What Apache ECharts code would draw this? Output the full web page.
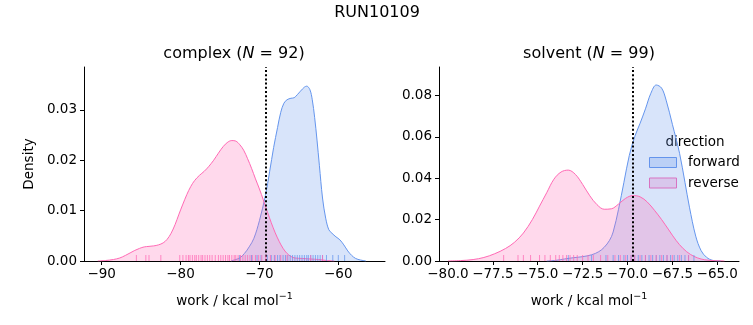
<!DOCTYPE html>
<html>
<head>
<meta charset="utf-8">
<script src="https://cdn.jsdelivr.net/npm/echarts@6/dist/echarts.min.js"></script>
<style>
html,body{margin:0;padding:0;background:#fff;}
#chart{width:753px;height:325px;}
</style>
</head>
<body>
<div id="chart"></div>
<script>
// ---------- data ----------
const complexForwardX = [-73.6,-73.2,-72.5,-71.9,-71.3,-70.7,-70.0,-69.24,-68.7,-68.2,-67.7,-67.3,-66.9,-66.5,-66.0,-65.6,-65.2,-64.8,-64.3,-64.0,-63.6,-63.3,-63.0,-62.7,-62.4,-62.0,-61.6,-61.2,-60.8,-60.3,-59.8,-59.3,-58.8,-58.3,-57.8,-57.2,-56.5];
const complexForwardY = [0.0,0.0002,0.0006,0.0015,0.0028,0.0045,0.0080,0.0130,0.0178,0.0225,0.0265,0.0295,0.0313,0.0320,0.0323,0.0324,0.0330,0.0337,0.0345,0.0347,0.0340,0.0320,0.0285,0.0240,0.0190,0.0125,0.0085,0.0062,0.0055,0.0048,0.0042,0.0032,0.0020,0.0011,0.0005,0.0002,0.0];
const complexReverseX = [-90.5,-89.5,-88.5,-87.7,-87.0,-86.4,-85.8,-85.2,-84.6,-84.0,-83.4,-82.8,-82.2,-81.7,-81.2,-80.7,-80.2,-79.7,-79.2,-78.7,-78.2,-77.6,-77.0,-76.4,-75.8,-75.2,-74.6,-74.0,-73.5,-73.0,-72.5,-72.0,-71.5,-71.0,-70.5,-70.0,-69.5,-69.0,-68.5,-68.0,-67.5,-67.0,-66.5,-66.0,-65.5,-64.5,-63.5,-62.5,-61.5,-60.5];
const complexReverseY = [0.0,0.0001,0.0003,0.0006,0.0011,0.0016,0.0021,0.0025,0.0028,0.0029,0.0030,0.0032,0.0036,0.0043,0.0055,0.0072,0.0093,0.0113,0.0132,0.0148,0.0160,0.0170,0.0178,0.0188,0.0200,0.0214,0.0227,0.0236,0.0239,0.0238,0.0231,0.0220,0.0203,0.0184,0.0163,0.0143,0.0121,0.0098,0.0076,0.0056,0.0039,0.0025,0.0015,0.0009,0.0006,0.0005,0.0004,0.0003,0.0001,0.0];
const solventForwardX = [-74.5,-74.0,-73.5,-73.0,-72.5,-72.0,-71.6,-71.3,-71.0,-70.8,-70.5,-70.2,-69.9,-69.6,-69.3,-69.0,-68.7,-68.4,-68.1,-67.85,-67.5,-67.1,-66.8,-66.55,-66.2,-65.9,-65.6,-65.25,-64.8];
const solventForwardY = [0.0,0.0003,0.0010,0.0016,0.0021,0.0030,0.0045,0.0066,0.0100,0.0140,0.0250,0.0380,0.0510,0.0600,0.0665,0.0735,0.0810,0.0850,0.0835,0.0777,0.0660,0.0520,0.0380,0.0260,0.0120,0.0050,0.0018,0.0003,0.0];
const solventReverseX = [-80.0,-79.3,-78.6,-78.0,-77.4,-76.8,-76.3,-75.8,-75.3,-74.9,-74.5,-74.1,-73.7,-73.3,-72.9,-72.5,-72.1,-71.7,-71.3,-70.9,-70.5,-70.1,-69.7,-69.3,-68.9,-68.5,-68.1,-67.7,-67.3,-66.9,-66.5,-66.1,-65.7,-65.2,-64.6];
const solventReverseY = [0.0,0.0002,0.0007,0.0017,0.0035,0.0060,0.0090,0.0135,0.0200,0.0265,0.0330,0.0395,0.0430,0.0439,0.0418,0.0370,0.0315,0.0272,0.0250,0.0252,0.0275,0.0303,0.0316,0.0310,0.0285,0.0245,0.0200,0.0150,0.0100,0.0060,0.0032,0.0015,0.0006,0.0002,0.0];

const complexForwardRug = [-72.5,-71.0,-70.3,-69.8,-69.0,-68.5,-68.1,-67.7,-67.4,-67.0,-66.7,-66.4,-66.1,-65.8,-65.5,-65.2,-64.9,-64.6,-64.3,-64.0,-63.8,-63.5,-63.2,-62.9,-62.6,-62.3,-62.0,-61.5,-60.7,-60.0,-59.2];
const complexReverseRug = [-85.6,-84.4,-84.0,-82.5,-80.1,-79.7,-79.3,-79.0,-78.8,-78.5,-78.2,-78.0,-77.7,-77.4,-77.2,-76.9,-76.6,-76.3,-76.0,-75.6,-75.2,-74.9,-74.6,-74.3,-74.0,-73.8,-73.5,-73.2,-73.0,-72.7,-72.4,-72.1,-71.8,-71.5,-71.2,-70.9,-70.5,-70.1,-69.7,-69.2,-68.6,-68.0,-67.3,-66.5,-63.5,-62.0];
const solventForwardRug = [-73.3,-72.0,-71.2,-70.8,-70.5,-70.2,-70.0,-69.8,-69.6,-69.4,-69.2,-69.0,-68.8,-68.6,-68.4,-68.2,-68.0,-67.8,-67.6,-67.4,-67.2,-67.0,-66.8,-66.6,-66.3];
const solventReverseRug = [-76.9,-76.1,-75.8,-75.4,-74.9,-74.6,-74.3,-74.0,-73.8,-73.6,-73.4,-73.2,-73.0,-72.8,-72.5,-72.2,-71.9,-71.5,-71.1,-70.7,-70.4,-70.1,-69.8,-69.6,-69.3,-69.0,-68.7,-68.4,-68.1,-67.8,-67.5,-67.1,-66.6];

const complexMean = -69.24;
const solventMean = -69.69;

const complexXTicks = [-90,-80,-70,-60];
const solventXTicks = [-80,-77.5,-75,-72.5,-70,-67.5,-65];

// ---------- styling ----------
const BLUE = '#6495ED';
const PINK = '#FF69B4';
const FONT = 'DejaVu Sans';
const FS = 13.5;
function fmt(v, dec){
  const s = Math.abs(Number(v)).toFixed(dec);
  return (Number(v) < 0 ? '\u2212' : '') + s;
}

function pairs(xs, ys){ return xs.map((x,i)=>[x, ys[i]]); }
function rug(xs){ return xs.map(x=>[x,0]); }

function xAxisDef(gi, min, max, ticks, dec){
  return {
    type:'value', gridIndex:gi, min:min, max:max,
    splitLine:{show:false},
    axisLine:{show:true, onZero:false, lineStyle:{color:'#000', width:1}},
    axisTick:{show:true, length:4, lineStyle:{color:'#000', width:1}, customValues:ticks},
    axisLabel:{color:'#000', fontFamily:FONT, fontSize:FS, margin:6, customValues:ticks,
      formatter: v => fmt(v, dec)},
    name:'work / kcal mol{sup|\u22121}',
    nameLocation:'middle', nameGap:31,
    nameTextStyle:{color:'#000', fontFamily:FONT, fontSize:FS,
      rich:{sup:{fontFamily:FONT, fontSize:9.5, verticalAlign:'top', padding:[0,0,8,0], color:'#000'}}}
  };
}
function yAxisDef(gi, max, interval, name){
  const o = {
    type:'value', gridIndex:gi, min:0, max:max, interval:interval,
    splitLine:{show:false},
    axisLine:{show:true, lineStyle:{color:'#000', width:1}},
    axisTick:{show:true, length:4, lineStyle:{color:'#000', width:1}},
    axisLabel:{color:'#000', fontFamily:FONT, fontSize:FS, margin:7, showMaxLabel:false,
      formatter: v => v.toFixed(2)}
  };
  if(name){
    o.name = name; o.nameLocation='middle'; o.nameGap=48;
    o.nameTextStyle = {color:'#000', fontFamily:FONT, fontSize:FS};
  }
  return o;
}
function kde(name, xi, yi, xs, ys, color, z){
  return {
    type:'line', name:name, xAxisIndex:xi, yAxisIndex:yi,
    data:pairs(xs, ys), showSymbol:false, symbol:'none',
    smooth:0.35, z:z, silent:true,
    lineStyle:{color:color, width:1},
    areaStyle:{color:color, opacity:0.25}
  };
}
function rugSeries(xi, yi, xs, color){
  return {
    type:'scatter', xAxisIndex:xi, yAxisIndex:yi, data:rug(xs),
    symbol:'rect', symbolSize:[1,6], symbolOffset:[0,-3], silent:true, z:5,
    itemStyle:{color:color, opacity:0.75}
  };
}
function vline(xi, yi, x){
  return {
    type:'line', xAxisIndex:xi, yAxisIndex:yi, data:[], silent:true, z:10,
    markLine:{silent:true, symbol:['none','none'], label:{show:false}, animation:false,
      lineStyle:{color:'#000', width:2, type:[2,2.2]}, data:[{xAxis:x}]}
  };
}

const chart = echarts.init(document.getElementById('chart'), null, {renderer:'canvas'});
chart.setOption({
  animation:false,
  backgroundColor:'#fff',
  grid:[
    {left:84, top:67, width:301, height:194},
    {left:439, top:67, width:300, height:194}
  ],
  xAxis:[
    xAxisDef(0, -92.24, -54.08, complexXTicks, 0),
    xAxisDef(1, -80.5, -63.79, solventXTicks, 1)
  ],
  yAxis:[
    yAxisDef(0, 0.0385, 0.01, 'Density'),
    yAxisDef(1, 0.0937, 0.02, null)
  ],
  series:[
    kde('forward', 0, 0, complexForwardX, complexForwardY, BLUE, 2),
    kde('reverse', 0, 0, complexReverseX, complexReverseY, PINK, 3),
    rugSeries(0, 0, complexForwardRug, BLUE),
    rugSeries(0, 0, complexReverseRug, PINK),
    vline(0, 0, complexMean),
    kde('forward', 1, 1, solventForwardX, solventForwardY, BLUE, 2),
    kde('reverse', 1, 1, solventReverseX, solventReverseY, PINK, 3),
    rugSeries(1, 1, solventForwardRug, BLUE),
    rugSeries(1, 1, solventReverseRug, PINK),
    vline(1, 1, solventMean)
  ],
  graphic:[
    {type:'text', x:377, y:13, style:{text:'RUN10109', fontFamily:FONT, fontSize:16, fill:'#000', align:'center', verticalAlign:'middle'}},
    {type:'text', x:234, y:54, style:{text:'complex ({i|N} = 92)', fontFamily:FONT, fontSize:16, fill:'#000', align:'center', verticalAlign:'middle',
      rich:{i:{fontFamily:FONT, fontSize:16, fontStyle:'italic', fill:'#000'}}}},
    {type:'text', x:589, y:54, style:{text:'solvent ({i|N} = 99)', fontFamily:FONT, fontSize:16, fill:'#000', align:'center', verticalAlign:'middle',
      rich:{i:{fontFamily:FONT, fontSize:16, fontStyle:'italic', fill:'#000'}}}},
    {type:'text', x:695, y:142, style:{text:'direction', fontFamily:FONT, fontSize:FS, fill:'#000', align:'center', verticalAlign:'middle'}},
    {type:'rect', shape:{x:649.5, y:157.5, width:27, height:10}, style:{fill:'rgba(100,149,237,0.25)', stroke:BLUE, lineWidth:1}},
    {type:'rect', shape:{x:649.5, y:178, width:27, height:10}, style:{fill:'rgba(255,105,180,0.25)', stroke:PINK, lineWidth:1}},
    {type:'text', x:688, y:162, style:{text:'forward', fontFamily:FONT, fontSize:FS, fill:'#000', align:'left', verticalAlign:'middle'}},
    {type:'text', x:688, y:183, style:{text:'reverse', fontFamily:FONT, fontSize:FS, fill:'#000', align:'left', verticalAlign:'middle'}}
  ]
});
</script>
</body>
</html>
